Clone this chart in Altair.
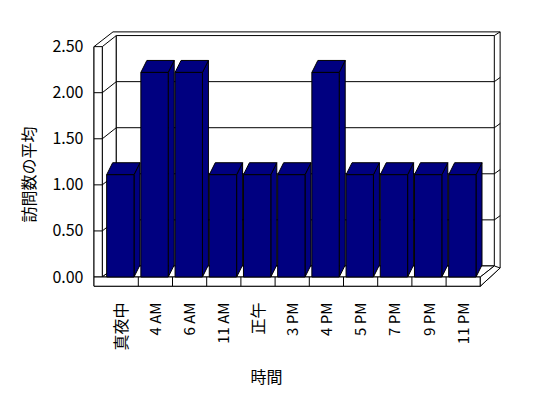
import json
import altair as alt
import pandas as pd

# ---- data ----
categories = ["真夜中", "4 AM", "6 AM", "11 AM", "正午", "3 PM", "4 PM", "5 PM", "7 PM", "9 PM", "11 PM"]
values = [1.11, 2.22, 2.22, 1.11, 1.11, 1.11, 2.22, 1.11, 1.11, 1.11, 1.11]
y_ticks = [0.0, 0.5, 1.0, 1.5, 2.0, 2.5]
y_title = "訪問数の平均"
x_title = "時間"

N = len(categories)
Y_MAX = y_ticks[-1]

# ---- 3D style geometry (in axis units) ----
SLAB_OUT, SLAB_IN = -0.295, -0.053   # left wall slab thickness
FLOOR_B = -0.10                      # floor slab thickness
DU, DV = 0.41, 0.12                  # wall depth offset
OUT_TOP, OUT_RIGHT, OUT_TL = 2.66, 11.58, 0.26
BAR_A, BAR_B = 0.075, 0.875          # bar front face within a category
BDU, BDV = 0.175, 0.13               # bar depth offset

# ---- layout ----
W, H = 414, 264
PAD_L, PAD_T = 90, 26
PAD_R, PAD_B = 548 - PAD_L - W, 398 - PAD_T - H
U_PX, V_PX, X0, Y0 = 34.2, 92.15, 104.1, 277.0
u_dom = [(PAD_L - X0) / U_PX, (PAD_L + W - X0) / U_PX]
v_dom = [(Y0 - (PAD_T + H)) / V_PX, (Y0 - PAD_T) / V_PX]


def poly(rows, pid, pts, close=True):
    seq = list(pts) + ([pts[0]] if close else [])
    for k, (u, v) in enumerate(seq):
        rows.append({"id": pid, "k": k, "u": u, "v": v})


R = N  # right end of floor in category units

outline = []
poly(outline, "outline", [(SLAB_OUT, FLOOR_B), (SLAB_OUT, Y_MAX), (OUT_TL, OUT_TOP),
                          (OUT_RIGHT, OUT_TOP), (OUT_RIGHT, 0.098), (R, FLOOR_B)])

faces = []
poly(faces, "leftinner", [(SLAB_IN, Y_MAX), (SLAB_IN + DU, Y_MAX + DV), (SLAB_IN + DU, DV), (SLAB_IN, 0)])
poly(faces, "slabfront", [(SLAB_OUT, 0), (SLAB_IN, 0), (SLAB_IN, Y_MAX), (SLAB_OUT, Y_MAX)])
poly(faces, "back", [(SLAB_IN + DU, DV), (R + DU, DV), (R + DU, Y_MAX + DV), (SLAB_IN + DU, Y_MAX + DV)])
poly(faces, "floortop", [(SLAB_IN, 0), (R, 0), (R + DU, DV), (SLAB_IN + DU, DV)])
poly(faces, "floorfront", [(SLAB_OUT, FLOOR_B), (R, FLOOR_B), (R, 0), (SLAB_OUT, 0)])
poly(faces, "floorside", [(R, 0), (R, FLOOR_B), (OUT_RIGHT, 0.098), (R + DU, DV)])

lines = []
for t in y_ticks[1:-1]:
    poly(lines, f"g{t}", [(SLAB_OUT, t), (SLAB_IN, t), (SLAB_IN + DU, t + DV),
                          (R + DU, t + DV), (OUT_RIGHT, t + DV + 0.045)], close=False)
poly(lines, "corner", [(R + DU, Y_MAX + DV), (OUT_RIGHT, OUT_TOP)], close=False)
for i in range(1, N):
    poly(lines, f"t{i}", [(i, FLOOR_B), (i, 0)], close=False)

bars = []
for i, h in enumerate(values):
    a, b = i + BAR_A, i + BAR_B
    poly(bars, f"b{i}s", [(b, 0), (b + BDU, BDV), (b + BDU, h + BDV), (b, h)])
    poly(bars, f"b{i}t", [(a, h), (b, h), (b + BDU, h + BDV), (a + BDU, h + BDV)])
    poly(bars, f"b{i}f", [(a, 0), (b, 0), (b, h), (a, h)])

FONT = "Noto Sans CJK JP"
cjk_idx = [i for i, c in enumerate(categories) if any(ord(ch) > 127 for ch in c)]
cjk_test = " || ".join(f"floor(datum.value) == {i}" for i in cjk_idx) or "false"

X = alt.X("u:Q", title=x_title,
          scale=alt.Scale(domain=u_dom, nice=False, zero=False),
          axis=alt.Axis(values=[i + 0.5 for i in range(N)],
                        labelExpr=json.dumps(categories, ensure_ascii=False) + "[floor(datum.value)]",
                        labelAngle=-90, labelPadding=12, labelFont=FONT,
                        labelFontSize={"condition": {"test": cjk_test, "value": 16}, "value": 15},
                        labelColor="black", domain=False, ticks=False, tickSize=0, grid=False,
                        titleFont=FONT, titleFontSize=16, titleFontWeight="normal", titleColor="black",
                        titleX=176, titleY=87, titleAlign="center", titleBaseline="middle",
                        labelOverlap=False))
Y = alt.Y("v:Q", title=y_title,
          scale=alt.Scale(domain=v_dom, nice=False, zero=False),
          axis=alt.Axis(values=y_ticks, format=".2f", labelPadding=7, labelFont=FONT,
                        labelFontSize=16, labelColor="black", domain=False, ticks=False,
                        tickSize=0, grid=False,
                        titleFont=FONT, titleFontSize=16, titleFontWeight="normal", titleColor="black",
                        titleX=-61, titleY=148, titleAlign="center", titleBaseline="middle",
                        titleAngle=-90))


def layer(rows, **mk):
    return alt.Chart(pd.DataFrame(rows)).mark_line(strokeWidth=1, stroke="black", **mk).encode(
        x=X, y=Y, detail="id:N", order="k:Q")


chart = alt.layer(
    layer(outline, fill="white"),
    layer(faces, fill="white"),
    layer(lines),
    layer(bars, fill="#000080"),
).properties(
    width=W, height=H,
    padding={"left": PAD_L, "top": PAD_T, "right": PAD_R, "bottom": PAD_B},
    autosize="none", background="white",
).configure_view(stroke=None)

chart.save("out.html", embed_options={"renderer": "svg", "actions": False})
